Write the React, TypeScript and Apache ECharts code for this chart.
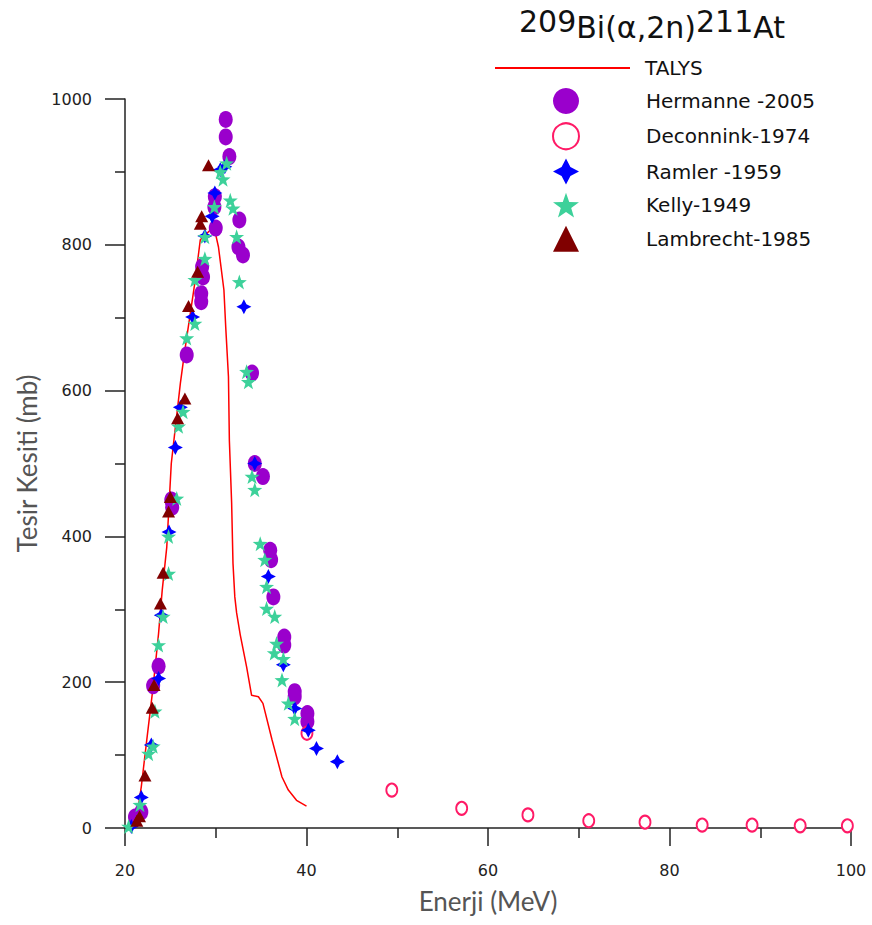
import React, { useEffect, useRef } from 'react';
import * as echarts from 'echarts';

const talys: number[][] = [
  [20.6, 3], [21.3, 15], [21.8, 57], [22.4, 121], [23.1, 194], [23.7, 267], [24.1, 326],
  [24.6, 385], [25.1, 500], [26.1, 610], [26.6, 656], [27.7, 748], [28.3, 807], [29.8, 825],
  [30.3, 797], [30.9, 738], [31.1, 687], [31.4, 619], [31.5, 532], [31.75, 446], [31.9, 363],
  [32.1, 317], [32.3, 295], [32.7, 265], [33.4, 221], [33.95, 182], [34.7, 180], [35.2, 171],
  [36.2, 121], [37.3, 70], [38.0, 52], [38.9, 38], [40.0, 30],
];

const hermanne: number[][] = [
  [21.1, 15], [21.8, 22], [23.1, 195], [23.7, 222], [25.1, 450], [25.2, 440], [26.8, 649],
  [28.4, 733], [28.4, 722], [28.5, 770], [28.6, 756], [29.9, 866], [29.85, 852], [30.0, 823],
  [31.1, 972], [31.1, 948], [31.5, 921], [32.6, 834], [32.5, 797], [33.0, 786], [34.0, 624],
  [34.3, 500], [35.2, 482], [36.0, 381], [36.1, 368], [36.35, 317], [37.55, 262], [37.55, 251],
  [38.7, 187], [38.7, 180], [40.1, 157], [40.1, 146],
];

const deconnink: number[][] = [
  [40.05, 130], [49.4, 52], [57.1, 27], [64.4, 18], [71.1, 10], [77.3, 8], [83.6, 4],
  [89.1, 4], [94.4, 3], [99.6, 3],
];

const ramler: number[][] = [
  [20.7, 2], [21.8, 42], [22.9, 114], [23.7, 205], [24.0, 292], [24.85, 406], [25.55, 522],
  [26.1, 577], [27.45, 701], [28.8, 812], [29.6, 839], [29.9, 871], [30.5, 903], [31.0, 907],
  [33.1, 715], [34.3, 500], [35.8, 345], [37.45, 224], [38.7, 164], [40.2, 134], [41.1, 109],
  [43.4, 91],
];

const kelly: number[][] = [
  [20.4, 2], [21.65, 32], [22.6, 102], [23.1, 112], [23.3, 160], [23.7, 251], [24.2, 290],
  [24.8, 349], [24.8, 400], [25.7, 452], [25.9, 551], [26.4, 571], [26.8, 672], [27.7, 692],
  [27.7, 752], [28.8, 781], [28.8, 811], [29.85, 852], [30.5, 900], [30.8, 890], [31.2, 912],
  [31.6, 861], [31.9, 850], [32.3, 811], [32.6, 749], [33.4, 626], [33.6, 612], [34.0, 482],
  [34.3, 464], [34.9, 390], [35.4, 368], [35.6, 331], [35.6, 301], [36.5, 290], [36.7, 253],
  [36.45, 240], [37.45, 232], [37.3, 203], [38.0, 171], [38.7, 150],
];

const lambrecht: number[][] = [
  [21.3, 10], [21.6, 16], [22.2, 72], [23.0, 165], [23.2, 196], [23.9, 308], [24.2, 350],
  [24.8, 434], [25.0, 454], [25.8, 562], [26.6, 589], [27.0, 716], [28.0, 763], [28.3, 829],
  [28.45, 839], [29.2, 909],
];

const seriesNames = ['TALYS', 'Hermanne -2005', 'Deconnink-1974', 'Ramler -1959', 'Kelly-1949', 'Lambrecht-1985'];

const STAR5 = 'path://M0,-10 L2.351,-3.236 L9.511,-3.09 L3.804,1.236 L5.878,8.09 L0,4 L-5.878,8.09 L-3.804,1.236 L-9.511,-3.09 L-2.351,-3.236 Z';
const STAR4 = 'path://M0,-10 L3.4,-3.4 L10,0 L3.4,3.4 L0,10 L-3.4,3.4 L-10,0 L-3.4,-3.4 Z';

const axisColor = '#222';
const labelFont = 'DejaVu Sans';
const nameFont = 'Lato';

export default function App() {
  const ref = useRef<HTMLDivElement>(null);
  useEffect(() => {
    document.body.style.margin = '0';
    const chart = echarts.init(ref.current!, null, { renderer: 'svg' });
    chart.setOption({
      animation: false,
      backgroundColor: '#ffffff',
      title: {
        text: '{s|209}{b|Bi(α,2n)}{s|211}{b|At}',
        left: 519,
        top: 6,
        padding: 0,
        textStyle: {
          fontWeight: 'normal',
          rich: {
            s: { fontSize: 30, fontFamily: 'DejaVu Sans', fontWeight: 'normal', color: '#111', lineHeight: 30, verticalAlign: 'top' },
            b: { fontSize: 30, fontFamily: 'DejaVu Sans', fontWeight: 'normal', color: '#111', lineHeight: 36, verticalAlign: 'bottom' },
          },
        },
      },
      legend: [
        {
          data: [{ name: seriesNames[0], icon: 'rect' }],
          left: 495,
          top: 58,
          padding: 0,
          itemWidth: 135,
          itemHeight: 2,
          textStyle: { fontFamily: labelFont, fontSize: 20, color: '#111', padding: [0, 0, 0, 10] },
        },
        {
          data: seriesNames.slice(1),
          orient: 'vertical',
          left: 552,
          top: 88,
          padding: 0,
          itemWidth: 26,
          itemHeight: 26,
          itemGap: 8.25,
          textStyle: { fontFamily: labelFont, fontSize: 20, color: '#111', padding: [0, 0, 0, 62] },
        },
      ],
      grid: { left: 125, right: 21, top: 99, bottom: 97, containLabel: false },
      xAxis: {
        type: 'value',
        min: 20,
        max: 100,
        interval: 20,
        name: 'Enerji (MeV)',
        nameLocation: 'middle',
        nameGap: 60,
        nameTextStyle: { fontFamily: nameFont, fontSize: 26, color: '#555' },
        axisLine: { show: true, onZero: false, lineStyle: { color: axisColor, width: 1.5 } },
        axisTick: { show: true, length: 18, lineStyle: { color: axisColor, width: 1.5 } },
        minorTick: { show: true, splitNumber: 2, length: 10, lineStyle: { color: axisColor, width: 1.5 } },
        splitLine: { show: false },
        axisLabel: { margin: 34, fontFamily: labelFont, fontSize: 16, color: '#222', formatter: (v: number) => String(v) },
      },
      yAxis: {
        type: 'value',
        min: 0,
        max: 1000,
        interval: 200,
        name: 'Tesir Kesiti (mb)',
        nameLocation: 'middle',
        nameGap: 78,
        nameTextStyle: { fontFamily: nameFont, fontSize: 26, color: '#555' },
        axisLine: { show: true, onZero: false, lineStyle: { color: axisColor, width: 1.5 } },
        axisTick: { show: true, length: 20, lineStyle: { color: axisColor, width: 1.5 } },
        minorTick: { show: true, splitNumber: 2, length: 10, lineStyle: { color: axisColor, width: 1.5 } },
        splitLine: { show: false },
        axisLabel: { margin: 33, fontFamily: labelFont, fontSize: 16, color: '#222', formatter: (v: number) => String(v) },
      },
      series: [
        {
          name: seriesNames[0],
          type: 'line',
          data: talys,
          symbol: 'none',
          showSymbol: false,
          lineStyle: { color: '#ff0000', width: 1.5 },
          itemStyle: { color: '#ff0000' },
          z: 1,
        },
        {
          name: seriesNames[1],
          type: 'scatter',
          data: hermanne,
          symbol: 'circle',
          symbolSize: [14, 17],
          itemStyle: { color: '#9a00cc', opacity: 1 },
          z: 2,
        },
        {
          name: seriesNames[2],
          type: 'scatter',
          data: deconnink,
          symbol: 'circle',
          symbolSize: [11, 13],
          itemStyle: { color: '#ffffff', borderColor: '#ff1a66', borderWidth: 2, opacity: 1 },
          z: 3,
        },
        {
          name: seriesNames[3],
          type: 'scatter',
          data: ramler,
          symbol: STAR4,
          symbolSize: 15,
          itemStyle: { color: '#0000ff', opacity: 1 },
          z: 4,
        },
        {
          name: seriesNames[4],
          type: 'scatter',
          data: kelly,
          symbol: STAR5,
          symbolSize: 15,
          itemStyle: { color: '#3dd19a', opacity: 1 },
          z: 5,
        },
        {
          name: seriesNames[5],
          type: 'scatter',
          data: lambrecht,
          symbol: 'triangle',
          symbolSize: [13, 12],
          itemStyle: { color: '#800000', opacity: 1 },
          z: 6,
        },
      ],
    });
    return () => chart.dispose();
  }, []);
  return <div ref={ref} style={{ width: 872, height: 925 }} />;
}
